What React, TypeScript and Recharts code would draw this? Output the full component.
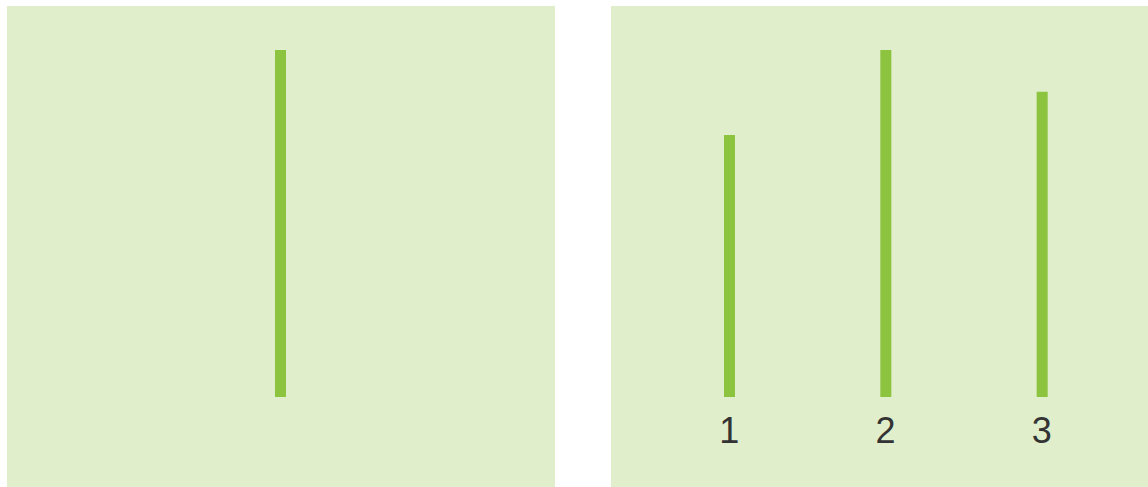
import React from "react";
import { BarChart, Bar, XAxis, YAxis } from "recharts";

const leftCategories = ["A"];
const leftValues = [100];
const rightCategories = ["1", "2", "3"];
const rightValues = [75.5, 100, 88];

const BG = "#e0eecb";
const BAR = "#8cc43f";

const leftData = leftCategories.map((c, i) => ({ name: c, value: leftValues[i] }));
const rightData = rightCategories.map((c, i) => ({ name: c, value: rightValues[i] }));

export default function App() {
  return (
    <div style={{ position: "absolute", left: 0, top: 0, width: 1148, height: 487, background: "#ffffff", overflow: "hidden" }}>
      <div style={{ position: "absolute", left: 7, top: 6, width: 548, height: 481, background: BG }}>
        <BarChart width={548} height={481} data={leftData} margin={{ top: 44, right: 2, bottom: 90, left: 0 }}>
          <XAxis dataKey="name" hide />
          <YAxis hide domain={[0, 100]} />
          <Bar dataKey="value" fill={BAR} barSize={11} isAnimationActive={false} />
        </BarChart>
      </div>
      <div style={{ position: "absolute", left: 611, top: 6, width: 537, height: 481, background: BG }}>
        <BarChart width={537} height={481} data={rightData} margin={{ top: 44, right: 28, bottom: 30, left: 40 }}>
          <XAxis
            dataKey="name"
            axisLine={false}
            tickLine={false}
            tickSize={0}
            tickMargin={20}
            height={60}
            interval={0}
            tick={{ fill: "#333333", fontSize: 36, fontFamily: "'Liberation Sans', Arial, sans-serif" }}
          />
          <YAxis hide domain={[0, 100]} />
          <Bar dataKey="value" fill={BAR} barSize={11} isAnimationActive={false} />
        </BarChart>
      </div>
    </div>
  );
}
